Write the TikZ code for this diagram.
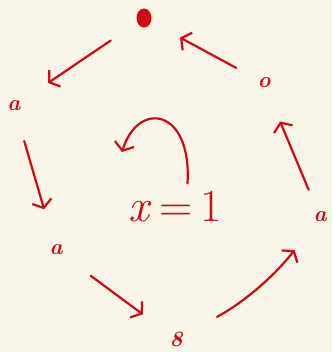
\documentclass[tikz,border=0pt]{standalone}
\usepackage{tikz}
\usetikzlibrary{arrows.meta,shapes.geometric}
\definecolor{InkRed}{RGB}{208,10,20}
\definecolor{Paper}{RGB}{249,246,233}
\tikzset{
  statelabel/.style={text=InkRed,inner sep=0pt,font=\bfseries\itshape\fontsize{22}{22}\selectfont},
  startdot/.style={ellipse,fill=InkRed,inner sep=0pt,minimum width=15pt,minimum height=19pt},
  guard/.style={text=InkRed,inner sep=0pt,font=\fontsize{46}{46}\selectfont},
  link/.style={draw=InkRed,line width=2.2pt,line cap=round,line join=round,-{Straight Barb[length=7pt,width=20pt,line width=2.2pt]}}
}
\begin{document}
\begin{tikzpicture}[x=1pt,y=-1pt]
\fill[Paper](0,0)rectangle(332,352);
\useasboundingbox(0,0)rectangle(332,352);
% states round the cycle
\node[startdot](t)at(144,18){};
\node[statelabel](tr)at(264,83){o};
\node[statelabel](r)at(320,217){a};
\node[statelabel](b)at(176,339){8};
\node[statelabel](bl)at(56,250){a};
\node[statelabel](l)at(14,106){a};
\node[guard](cx)at(175,207){\textit{x}\,=\,1};
% transitions
\draw[link,shorten <=32pt,shorten >=33pt](t)--(l);
\draw[link,shorten <=31pt,shorten >=37pt](l)--(bl);
\draw[link,shorten <=35pt,shorten >=33pt](bl)--(b);
\draw[link,shorten <=39pt,shorten >=35pt](b)to[bend right=12](r);
\draw[link,shorten <=24pt,shorten >=36pt](r)--(tr);
\draw[link,shorten <=24pt,shorten >=33pt](tr)--(t);
% self loop
\coordinate(loopend)at(122,152);
\draw[link,shorten <=8pt]([xshift=12pt]cx.north)..controls(192,108)and(138,100)..(loopend);
\end{tikzpicture}
\end{document}
